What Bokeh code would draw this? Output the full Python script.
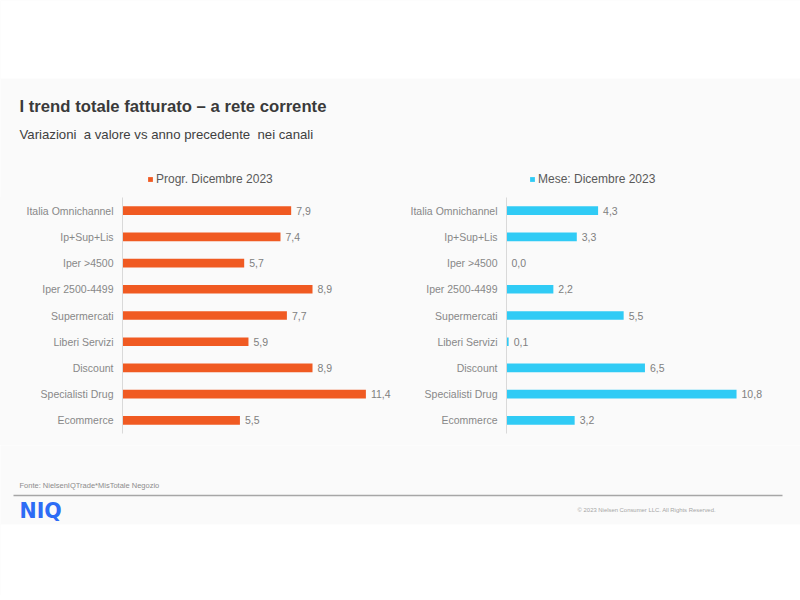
from bokeh.plotting import figure
from bokeh.layouts import column, row
from bokeh.models import (ColumnDataSource, FactorRange, Range1d, LabelSet, Label,
                          Legend, LegendItem)
from bokeh.core.properties import value
from bokeh.embed import file_html
from bokeh.resources import INLINE

# ---------------- data ----------------
categories = ["Italia Omnichannel", "Ip+Sup+Lis", "Iper >4500", "Iper 2500-4499",
              "Supermercati", "Liberi Servizi", "Discount", "Specialisti Drug", "Ecommerce"]
progr_dic_2023 = [7.9, 7.4, 5.7, 8.9, 7.7, 5.9, 8.9, 11.4, 5.5]
mese_dic_2023 = [4.3, 3.3, 0.0, 2.2, 5.5, 0.1, 6.5, 10.8, 3.2]
series_names = ["Progr. Dicembre 2023", "Mese: Dicembre 2023"]

title_text = "I trend totale fatturato \u2013 a rete corrente"
subtitle_text = "Variazioni\u00a0 a valore vs anno precedente\u00a0 nei canali"
source_text = "Fonte: NielsenIQTrade*MisTotale Negozio"
copyright_text = "\u00a9 2023  Nielsen Consumer LLC. All Rights Reserved."

# ---------------- styles ----------------
SLIDE = "#fafafa"
ORANGE = "#F05A22"
CYAN = "#30CBF5"
FONT = "Liberation Sans"
W = 800
H_HEAD, H_ROW, H_FOOT = 197, 248, 150


def deco_fig(height):
    p = figure(width=W, height=height, x_range=Range1d(0, W), y_range=Range1d(height, 0),
               x_axis_type=None, y_axis_type=None, toolbar_location=None,
               output_backend="svg", min_border=0)
    p.outline_line_color = None
    p.grid.visible = False
    p.background_fill_color = SLIDE
    p.border_fill_color = SLIDE
    return p


# ---------------- header (titles + legends) ----------------
header = deco_fig(H_HEAD)
header.quad(left=0, right=W, top=0, bottom=78, fill_color="white", line_color=None)
header.add_layout(Label(x=19, y=106, text=title_text, text_font=FONT, text_font_size="16.7px",
                        text_font_style="bold", text_color="#3a3a3a", text_baseline="alphabetic"))
header.add_layout(Label(x=19, y=134, text=subtitle_text, text_font=FONT, text_font_size="13.2px",
                        text_color="#404040", text_baseline="alphabetic"))

for name, color, lx in [(series_names[0], ORANGE, 147), (series_names[1], CYAN, 529)]:
    # zero-length bar, used only as the legend's swatch source
    swatch_src = ColumnDataSource(dict(y=[-1000], right=[0]))
    dummy = header.hbar(y="y", right="right", left=0, height=1, source=swatch_src,
                        fill_color=color, line_color=None)
    leg = Legend(items=[LegendItem(label=name, renderers=[dummy])], location=(lx, 11),
                 glyph_width=6, glyph_height=6, label_standoff=3, padding=0,
                 label_height=12, border_line_color=None, background_fill_alpha=0,
                 label_text_font=FONT, label_text_font_size="12px",
                 label_text_color="#595959", margin=0)
    header.add_layout(leg)


# ---------------- bar charts ----------------
def bar_fig(values, color, border_left, width, xmax):
    src = ColumnDataSource(dict(cat=categories, val=values,
                                lbl=[f"{v:.1f}".replace(".", ",") for v in values]))
    p = figure(width=width, height=H_ROW, y_range=FactorRange(*reversed(categories)),
               x_range=Range1d(0, xmax), toolbar_location=None, output_backend="svg",
               x_axis_location=None, min_border_left=border_left, min_border_right=0,
               min_border_top=0, min_border_bottom=12)
    p.outline_line_color = None
    p.grid.visible = False
    p.background_fill_color = SLIDE
    p.border_fill_color = SLIDE
    p.hbar(y="cat", right="val", left=0, height=0.33, source=src,
           fill_color=color, line_color=None)
    p.add_layout(LabelSet(x="val", y="cat", text="lbl", source=src, x_offset=5,
                          text_font=value(FONT), text_font_size=value("10.5px"),
                          text_color="#808080", text_baseline="middle"))
    ax = p.yaxis[0]
    ax.axis_line_color = "#d9d9d9"
    ax.axis_line_width = 1
    ax.major_tick_line_color = None
    ax.minor_tick_line_color = None
    ax.major_tick_out = 0
    ax.major_tick_in = 0
    ax.major_label_standoff = 9
    ax.major_label_text_font = FONT
    ax.major_label_text_font_size = "10.5px"
    ax.major_label_text_color = "#888888"
    return p


left = bar_fig(progr_dic_2023, ORANGE, 122, 400, 278 / 21.35)
right = bar_fig(mese_dic_2023, CYAN, 106, 400, 294 / 21.3)

# ---------------- footer ----------------
footer = deco_fig(H_FOOT)
footer.quad(left=0, right=W, top=79, bottom=H_FOOT, fill_color="white", line_color=None)
footer.add_layout(Label(x=19, y=40, text=source_text, text_font=FONT, text_font_size="7.5px",
                        text_color="#8c8c8c", text_baseline="middle"))
footer.segment(x0=[13], y0=[50], x1=[782], y1=[50], line_color="#a6a6a6", line_width=1.5)
footer.add_layout(Label(x=19, y=65, text="NIQ", text_font="DejaVu Sans", text_font_size="20.5px",
                        text_font_style="bold", text_color="#2D6CF5", text_baseline="middle"))
footer.add_layout(Label(x=717, y=64, text=copyright_text, text_font=FONT,
                        text_font_size="5.9px", text_color="#a6a6a6", text_baseline="middle",
                        text_align="right"))

charts = row(left, right, spacing=0, styles={"background-color": SLIDE})
layout = column(header, charts, footer, spacing=0)
open("out.html", "w").write(file_html(layout, INLINE))
